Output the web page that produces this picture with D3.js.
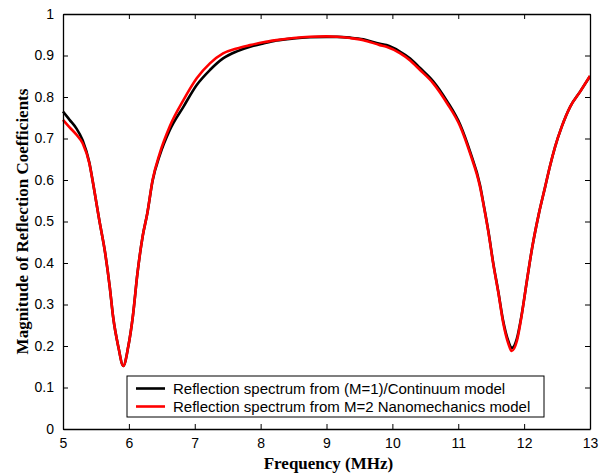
<!DOCTYPE html>
<html>
<head>
<meta charset="utf-8">
<script src="https://cdn.jsdelivr.net/npm/d3@7"></script>
<style>
  html, body { margin: 0; padding: 0; background: #fff; }
  svg { display: block; }
  .tick text { font-family: "Liberation Sans", Arial, sans-serif; font-size: 14px; fill: #000; }
  .axis-title { font-family: "Liberation Serif", "Times New Roman", serif; font-weight: 700; font-size: 17px; }
  .legend-lbl { font-family: "Liberation Sans", Arial, sans-serif; font-size: 15px; }
</style>
</head>
<body>
<svg id="chart"></svg>
<script>
// ── Data ─────────────────────────────────────────────────────────────────────
const freq = [
  5.00, 5.10, 5.20, 5.30, 5.40, 5.45, 5.55, 5.64, 5.71, 5.76, 5.84, 5.915,
  5.99, 6.06, 6.13, 6.21, 6.28, 6.36, 6.47, 6.62, 6.83, 7.03, 7.23, 7.43,
  7.64, 7.84, 8.04, 8.24, 8.50, 8.75, 9.00, 9.16, 9.36, 9.56, 9.81, 9.91,
  10.12, 10.27, 10.42, 10.62, 10.83, 11.03, 11.18, 11.33, 11.39, 11.46, 11.53, 11.61,
  11.68, 11.76, 11.81, 11.89, 11.96, 12.04, 12.12, 12.22, 12.32, 12.39, 12.47, 12.57,
  12.70, 12.85, 13.00
];
// M=1 / continuum model (black)
const continuum = [
  0.765, 0.745, 0.725, 0.695, 0.642, 0.598, 0.504, 0.424, 0.342, 0.271, 0.198, 0.152,
  0.198, 0.271, 0.375, 0.465, 0.520, 0.598, 0.660, 0.720, 0.777, 0.829, 0.865, 0.893,
  0.910, 0.921, 0.929, 0.936, 0.941, 0.944, 0.945, 0.945, 0.943, 0.939, 0.928, 0.925,
  0.909, 0.893, 0.870, 0.838, 0.790, 0.733, 0.668, 0.588, 0.537, 0.474, 0.401, 0.329,
  0.262, 0.212, 0.195, 0.218, 0.273, 0.355, 0.435, 0.516, 0.584, 0.632, 0.680, 0.728,
  0.777, 0.813, 0.850
];
// M=2 nanomechanics model (red)
const nano = [
  0.745, 0.727, 0.710, 0.688, 0.640, 0.598, 0.504, 0.424, 0.342, 0.271, 0.198, 0.152,
  0.198, 0.271, 0.375, 0.465, 0.520, 0.600, 0.665, 0.729, 0.793, 0.845, 0.881, 0.905,
  0.917, 0.925, 0.932, 0.937, 0.942, 0.945, 0.946, 0.945, 0.942, 0.937, 0.925, 0.921,
  0.905, 0.888, 0.865, 0.833, 0.785, 0.729, 0.664, 0.584, 0.535, 0.472, 0.399, 0.327,
  0.258, 0.206, 0.188, 0.212, 0.271, 0.355, 0.435, 0.516, 0.584, 0.632, 0.680, 0.728,
  0.777, 0.813, 0.851
];
const xTicks = [5, 6, 7, 8, 9, 10, 11, 12, 13];
const yTicks = [0, 0.1, 0.2, 0.3, 0.4, 0.5, 0.6, 0.7, 0.8, 0.9, 1];
const seriesNames = [
  "Reflection spectrum from (M=1)/Continuum model",
  "Reflection spectrum from M=2 Nanomechanics model"
];
const seriesColors = ["#000000", "#ff0000"];

// ── Layout ───────────────────────────────────────────────────────────────────
const W = 606, H = 476;
const L = 63, R = 590, T = 14, B = 429;

const svg = d3.select("#chart").attr("width", W).attr("height", H);

const x = d3.scaleLinear().domain([5, 13]).range([L, R]);
const y = d3.scaleLinear().domain([0, 1]).range([B, T]);

// ── Curves (black first, red on top) ─────────────────────────────────────────
const line = d3.line().curve(d3.curveMonotoneX).x(d => x(d[0])).y(d => y(d[1]));
[continuum, nano].forEach((vals, i) => {
  svg.append("path")
    .datum(freq.map((f, j) => [f, vals[j]]))
    .attr("fill", "none")
    .attr("stroke", seriesColors[i])
    .attr("stroke-width", 2.6)
    .attr("stroke-linejoin", "round")
    .attr("d", line);
});

// ── Axes: inward ticks on all four sides ─────────────────────────────────────
const fmt = d3.format("~g");
function styleAxis(g) {
  g.selectAll(".domain").attr("stroke", "#000").attr("stroke-width", 1.3);
  g.selectAll(".tick line").attr("stroke", "#000").attr("stroke-width", 1);
  g.selectAll(".tick text").attr("font-family", null).attr("font-size", null);
}
svg.append("g").attr("transform", `translate(0,${B})`)
  .call(d3.axisBottom(x).tickValues(xTicks).tickFormat(fmt).tickSize(-5).tickSizeOuter(0).tickPadding(9))
  .call(styleAxis);
svg.append("g").attr("transform", `translate(${L},0)`)
  .call(d3.axisLeft(y).tickValues(yTicks).tickFormat(fmt).tickSize(-5).tickSizeOuter(0).tickPadding(9))
  .call(styleAxis);
svg.append("g").attr("transform", `translate(0,${T})`)
  .call(d3.axisTop(x).tickValues(xTicks).tickFormat("").tickSize(-5).tickSizeOuter(0))
  .call(styleAxis);
svg.append("g").attr("transform", `translate(${R},0)`)
  .call(d3.axisRight(y).tickValues(yTicks).tickFormat("").tickSize(-5).tickSizeOuter(0))
  .call(styleAxis);

// ── Axis titles ──────────────────────────────────────────────────────────────
svg.append("text").attr("class", "axis-title")
  .attr("x", (L + R) / 2 + 2).attr("y", 469)
  .attr("text-anchor", "middle")
  .text("Frequency (MHz)");
svg.append("text").attr("class", "axis-title")
  .attr("transform", `translate(28,${(T + B) / 2}) rotate(-90)`)
  .attr("text-anchor", "middle")
  .text("Magnitude of Reflection Coefficients");

// ── Legend ───────────────────────────────────────────────────────────────────
const legG = svg.append("g").attr("transform", "translate(127,376)");
legG.append("rect").attr("width", 417).attr("height", 41)
  .attr("fill", "#fff").attr("stroke", "#000").attr("stroke-width", 1);
seriesNames.forEach((name, i) => {
  const row = legG.append("g").attr("transform", `translate(0,${12.5 + i * 18})`);
  row.append("line").attr("x1", 9).attr("x2", 38)
    .attr("stroke", seriesColors[i]).attr("stroke-width", 2.6);
  row.append("text").attr("class", "legend-lbl")
    .attr("x", 46).attr("dy", "0.35em")
    .text(name);
});
</script>
</body>
</html>
